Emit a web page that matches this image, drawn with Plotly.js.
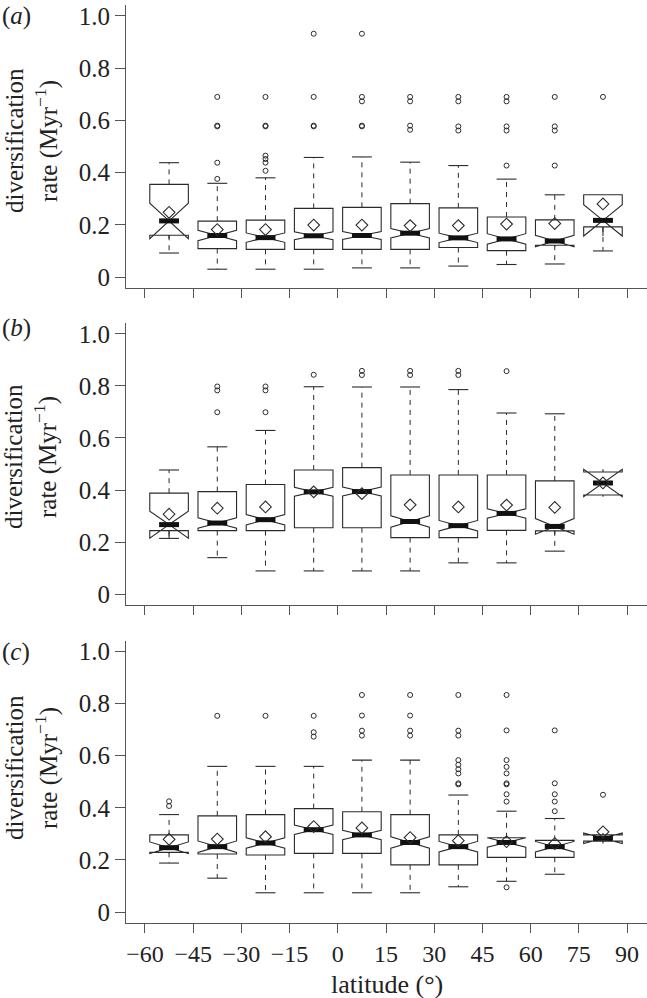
<!DOCTYPE html>
<html><head><meta charset="utf-8">
<script src="https://cdn.plot.ly/plotly-3.0.1.min.js"></script>
</head><body style="margin:0;background:#fff"><div id="chart" style="width:647px;height:998px"></div>
<script>
// ---------- shared categories / ticks ----------
const positions = [-52.5, -37.5, -22.5, -7.5, 7.5, 22.5, 37.5, 52.5, 67.5, 82.5];
const xTickVals = [-60, -45, -30, -15, 0, 15, 30, 45, 60, 75, 90];
const xTickText = ['−60', '−45', '−30', '−15', '0', '15', '30', '45', '60', '75', '90'];
const yTickVals = [0, 0.2, 0.4, 0.6, 0.8, 1.0];
const yTickText = ['0', '0.2', '0.4', '0.6', '0.8', '1.0'];
const panelLetters = ['a', 'b', 'c'];

// ---------- panel (a) ----------
const aQ1    = [0.160, 0.109, 0.106, 0.106, 0.106, 0.106, 0.113, 0.101, 0.122, 0.192];
const aMed   = [0.215, 0.159, 0.151, 0.158, 0.159, 0.168, 0.150, 0.146, 0.138, 0.217];
const aQ3    = [0.355, 0.214, 0.218, 0.263, 0.267, 0.281, 0.265, 0.230, 0.219, 0.315];
const aLo    = [0.092, 0.030, 0.030, 0.030, 0.035, 0.035, 0.042, 0.048, 0.050, 0.100];
const aHi    = [0.438, 0.359, 0.380, 0.458, 0.460, 0.440, 0.427, 0.375, 0.315, 0.315];
const aMean  = [0.248, 0.182, 0.182, 0.199, 0.199, 0.197, 0.197, 0.203, 0.205, 0.280];
const aNotch = [0.068, 0.020, 0.018, 0.015, 0.015, 0.018, 0.018, 0.020, 0.022, 0.060];
const aOut = [
  [],
  [0.690, 0.580, 0.577, 0.438, 0.376],
  [0.690, 0.580, 0.577, 0.465, 0.452, 0.438, 0.407],
  [0.932, 0.690, 0.580, 0.577],
  [0.932, 0.690, 0.673, 0.580, 0.577],
  [0.690, 0.673, 0.580, 0.564],
  [0.690, 0.673, 0.577, 0.561],
  [0.690, 0.673, 0.577, 0.561, 0.427],
  [0.690, 0.577, 0.561, 0.427],
  [0.690]
];

// ---------- panel (b) ----------
const bQ1    = [0.244, 0.244, 0.244, 0.255, 0.255, 0.217, 0.217, 0.245, 0.243, 0.381];
const bMed   = [0.267, 0.273, 0.286, 0.393, 0.394, 0.279, 0.263, 0.310, 0.260, 0.427];
const bQ3    = [0.388, 0.394, 0.421, 0.477, 0.486, 0.458, 0.458, 0.458, 0.435, 0.469];
const bLo    = [0.214, 0.140, 0.089, 0.089, 0.089, 0.089, 0.120, 0.120, 0.165, 0.381];
const bHi    = [0.477, 0.566, 0.629, 0.797, 0.796, 0.796, 0.786, 0.696, 0.693, 0.469];
const bMean  = [0.307, 0.330, 0.335, 0.393, 0.386, 0.343, 0.335, 0.342, 0.333, 0.427];
const bNotch = [0.052, 0.020, 0.020, 0.017, 0.017, 0.022, 0.020, 0.018, 0.030, 0.053];
const bOut = [
  [],
  [0.798, 0.783, 0.699],
  [0.798, 0.783, 0.699],
  [0.843],
  [0.858, 0.842],
  [0.858, 0.842],
  [0.858, 0.842],
  [0.857],
  [],
  []
];

// ---------- panel (c) ----------
const cQ1    = [0.229, 0.223, 0.219, 0.225, 0.225, 0.181, 0.181, 0.210, 0.210, 0.272];
const cMed   = [0.247, 0.251, 0.265, 0.316, 0.296, 0.267, 0.251, 0.267, 0.251, 0.283];
const cQ3    = [0.296, 0.369, 0.374, 0.397, 0.385, 0.374, 0.296, 0.285, 0.275, 0.296];
const cLo    = [0.188, 0.130, 0.074, 0.074, 0.074, 0.074, 0.097, 0.118, 0.145, 0.272];
const cHi    = [0.374, 0.559, 0.559, 0.559, 0.583, 0.583, 0.449, 0.387, 0.359, 0.296];
const cMean  = [0.279, 0.280, 0.289, 0.328, 0.323, 0.286, 0.274, 0.270, 0.263, 0.308];
const cNotch = [0.022, 0.022, 0.020, 0.018, 0.018, 0.022, 0.020, 0.018, 0.020, 0.020];
const cOut = [
  [0.425, 0.407],
  [0.753],
  [0.753],
  [0.753, 0.690, 0.673],
  [0.833, 0.754, 0.696, 0.677],
  [0.833, 0.754, 0.696, 0.677],
  [0.833, 0.696, 0.677, 0.583, 0.565, 0.548, 0.532, 0.494, 0.490],
  [0.833, 0.697, 0.583, 0.557, 0.532, 0.494, 0.490, 0.452, 0.424, 0.095],
  [0.697, 0.494, 0.452, 0.424, 0.387],
  [0.450]
];

// ---------- styling ----------
const INK = '#2b2b2b';
const AXC = '#555555';
const FONT = 'Liberation Serif';
const BOXW = 12;      // box width in degrees
const HALF = 3.1;     // half width of median bar / staples

function panelTraces(xa, ya, q1, med, q3, lo, hi, mean, notch, outs) {
  const traces = [];
  traces.push({
    type: 'box', xaxis: xa, yaxis: ya, x: positions,
    q1: q1, median: med, q3: q3, lowerfence: q1, upperfence: q3,
    notched: true, notchspan: notch, notchwidth: 0.5,
    width: BOXW, whiskerwidth: 0, boxpoints: false,
    line: {color: INK, width: 1.1}, fillcolor: 'rgba(255,255,255,0)',
    hoverinfo: 'skip', showlegend: false
  });
  const wx = [], wy = [];
  const sx = [], sy = [];
  const mx = [], my = [];
  positions.forEach((p, i) => {
    if (hi[i] > q3[i]) {
      wx.push(p, p, null); wy.push(q3[i], hi[i], null);
      sx.push(p - HALF, p + HALF, null); sy.push(hi[i], hi[i], null);
    }
    if (lo[i] < q1[i]) {
      wx.push(p, p, null); wy.push(q1[i], lo[i], null);
      sx.push(p - HALF, p + HALF, null); sy.push(lo[i], lo[i], null);
    }
    mx.push(p - HALF, p + HALF, null); my.push(med[i], med[i], null);
  });
  traces.push({type: 'scatter', mode: 'lines', xaxis: xa, yaxis: ya, x: wx, y: wy,
    line: {color: INK, width: 1, dash: '5px,5px'}, hoverinfo: 'skip', showlegend: false});
  traces.push({type: 'scatter', mode: 'lines', xaxis: xa, yaxis: ya, x: sx, y: sy,
    line: {color: INK, width: 1.1}, hoverinfo: 'skip', showlegend: false});
  traces.push({type: 'scatter', mode: 'lines', xaxis: xa, yaxis: ya, x: mx, y: my,
    line: {color: '#111', width: 5}, hoverinfo: 'skip', showlegend: false});
  const ox = [], oy = [];
  outs.forEach((arr, i) => arr.forEach(v => { ox.push(positions[i]); oy.push(v); }));
  traces.push({type: 'scatter', mode: 'markers', xaxis: xa, yaxis: ya, x: ox, y: oy,
    marker: {symbol: 'circle-open', size: 5, color: INK, line: {width: 1, color: INK}},
    hoverinfo: 'skip', showlegend: false});
  traces.push({type: 'scatter', mode: 'markers', xaxis: xa, yaxis: ya, x: positions, y: mean,
    marker: {symbol: 'diamond-open', size: 9, color: INK, line: {width: 1.1, color: INK}},
    hoverinfo: 'skip', showlegend: false});
  return traces;
}

const data = []
  .concat(panelTraces('x', 'y', aQ1, aMed, aQ3, aLo, aHi, aMean, aNotch, aOut))
  .concat(panelTraces('x2', 'y2', bQ1, bMed, bQ3, bLo, bHi, bMean, bNotch, bOut))
  .concat(panelTraces('x3', 'y3', cQ1, cMed, cQ3, cLo, cHi, cMean, cNotch, cOut));

function xAxis(anchor, labels) {
  return {
    anchor: anchor, domain: [0, 1], range: [-65.9, 96.2],
    tickmode: 'array', tickvals: xTickVals, ticktext: xTickText,
    showticklabels: labels, ticks: 'outside', ticklen: 9, tickwidth: 1, tickcolor: AXC,
    showline: true, linecolor: AXC, linewidth: 1, showgrid: false, zeroline: false,
    tickfont: {family: FONT, size: 24, color: '#222'}
  };
}
function yAxis(anchor, domain) {
  return {
    anchor: anchor, domain: domain, range: [-0.042, 1.042],
    tickmode: 'array', tickvals: yTickVals, ticktext: yTickText,
    ticks: 'outside', ticklen: 10, tickwidth: 1, tickcolor: AXC,
    showline: true, linecolor: AXC, linewidth: 1, showgrid: false, zeroline: false,
    tickfont: {family: FONT, size: 25, color: '#222'}
  };
}

const px = v => (v - 126) / 521;
const py = v => (923 - v) / 918;

const annotations = [];
const labelY = [16, 328, 652];
const titleY = [141, 457, 768];
panelLetters.forEach((L, i) => {
  annotations.push({xref: 'paper', yref: 'paper', x: px(0), y: py(labelY[i]),
    xanchor: 'left', yanchor: 'middle', showarrow: false,
    text: '(<i>' + L + '</i>)', font: {family: FONT, size: 25, color: '#222'}});
  annotations.push({xref: 'paper', yref: 'paper', x: px(14), y: py(titleY[i]),
    xanchor: 'center', yanchor: 'middle', showarrow: false, textangle: -90,
    text: 'diversification', font: {family: FONT, size: 25, color: '#222'}});
  annotations.push({xref: 'paper', yref: 'paper', x: px(46), y: py(titleY[i]),
    xanchor: 'center', yanchor: 'middle', showarrow: false, textangle: -90,
    text: 'rate (Myr<sup>−1</sup>)', font: {family: FONT, size: 25, color: '#222'}});
});
annotations.push({xref: 'paper', yref: 'paper', x: 0.5, y: py(984),
  xanchor: 'center', yanchor: 'middle', showarrow: false,
  text: 'latitude (°)', font: {family: FONT, size: 26, color: '#222'}});

const layout = {
  width: 647, height: 998,
  margin: {l: 126, r: 0, t: 5, b: 75},
  paper_bgcolor: '#fff', plot_bgcolor: '#fff',
  showlegend: false,
  font: {family: FONT, color: '#222'},
  xaxis: xAxis('y', false),
  xaxis2: xAxis('y2', false),
  xaxis3: xAxis('y3', true),
  yaxis: yAxis('x', [py(288), 1]),
  yaxis2: yAxis('x2', [py(605), py(323)]),
  yaxis3: yAxis('x3', [0, py(640.5)]),
  annotations: annotations
};

Plotly.newPlot('chart', data, layout, {staticPlot: true, displayModeBar: false});
</script></body></html>
